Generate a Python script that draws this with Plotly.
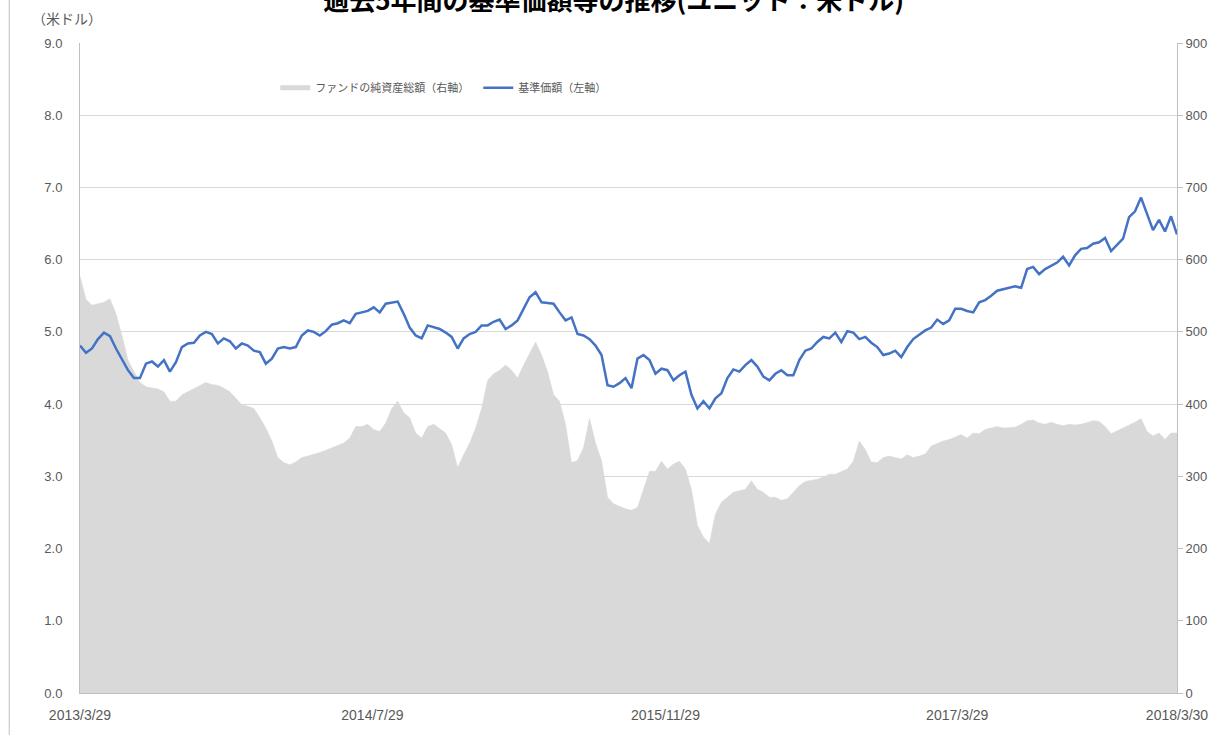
import pandas as pd
import plotly.graph_objects as go

# ---- data ----
start_date = "2013-03-29"
end_date = "2018-03-30"
n_points = 184

nav_usd = [  # 基準価額（左軸）, 米ドル
    4.81, 4.71, 4.77, 4.90, 4.99, 4.94, 4.77, 4.61, 4.47, 4.36,
    4.36, 4.56, 4.59, 4.52, 4.61, 4.45, 4.58, 4.79, 4.84, 4.85,
    4.95, 5.00, 4.97, 4.84, 4.91, 4.87, 4.77, 4.84, 4.81, 4.74,
    4.72, 4.56, 4.63, 4.77, 4.79, 4.77, 4.79, 4.95, 5.02, 5.00,
    4.95, 5.01, 5.10, 5.12, 5.16, 5.12, 5.25,
    5.27, 5.29, 5.34, 5.27, 5.39, 5.41, 5.42, 5.25, 5.06, 4.95,
    4.91, 5.09, 5.06, 5.04, 4.99, 4.93, 4.77, 4.91, 4.97, 5.00,
    5.09, 5.09, 5.14, 5.17, 5.04, 5.09, 5.16, 5.32, 5.48, 5.55,
    5.41, 5.40, 5.39, 5.27, 5.16, 5.20, 4.97, 4.95, 4.90, 4.81,
    4.68, 4.26, 4.24, 4.29, 4.36, 4.22,
    4.63, 4.68, 4.61, 4.42, 4.49, 4.47, 4.33, 4.40, 4.45, 4.13,
    3.94, 4.04, 3.94, 4.08, 4.15, 4.36, 4.48, 4.45, 4.54, 4.61,
    4.52, 4.38, 4.33, 4.42, 4.47, 4.40, 4.40, 4.61, 4.74, 4.77,
    4.86, 4.93, 4.91, 4.99, 4.86, 5.01, 4.99, 4.90, 4.93, 4.85,
    4.79, 4.68, 4.70, 4.74, 4.65, 4.79,
    4.90, 4.96, 5.02, 5.06, 5.17, 5.11, 5.16, 5.32, 5.32, 5.29,
    5.27, 5.41, 5.44, 5.50, 5.57, 5.59, 5.61, 5.63, 5.61, 5.87,
    5.90, 5.80, 5.87, 5.92, 5.96, 6.04, 5.92, 6.06, 6.15, 6.16,
    6.22, 6.24, 6.30, 6.12, 6.21, 6.29, 6.59, 6.67, 6.86, 6.62,
    6.41, 6.55, 6.39, 6.60, 6.35,
]

net_assets = [  # ファンドの純資産総額（右軸）
    577, 545, 537, 539, 541, 546, 525, 495, 461, 445,
    430, 424, 423, 421, 417, 404, 404, 413, 417, 421,
    426, 430, 427, 426, 422, 417, 408, 399, 397, 394,
    381, 367, 349, 326, 319, 316, 320, 326, 328, 330,
    333, 336, 339, 342, 346, 353, 369,
    369, 372, 365, 362, 374, 394, 404, 388, 381, 360,
    353, 369, 372, 366, 360, 344, 312, 330, 346, 367,
    394, 433, 442, 447, 454, 447, 436, 454, 470, 486,
    468, 445, 413, 404, 372, 319, 322, 340, 380, 346,
    322, 271, 262, 258, 255, 253,
    257, 282, 307, 307, 321, 310, 317, 321, 310, 282,
    232, 216, 207, 248, 264, 271, 278, 280, 282, 294,
    282, 278, 271, 271, 267, 269, 278, 287, 293, 294,
    296, 299, 303, 303, 307, 310, 321, 349, 337, 320,
    319, 326, 328, 326, 324, 330,
    326, 328, 331, 342, 346, 349, 351, 354, 358, 353,
    360, 359, 365, 367, 369, 367, 367, 368, 372, 377,
    378, 374, 372, 375, 372, 370, 372, 371, 372, 374,
    377, 376, 369, 359, 363, 366, 371, 375, 380, 362,
    356, 360, 351, 360, 360,
]

tick_dates = ["2013-03-29", "2014-07-29", "2015-11-29", "2017-03-29", "2018-03-30"]
tick_labels = ["2013/3/29", "2014/7/29", "2015/11/29", "2017/3/29", "2018/3/30"]

title_text = "過去5年間の基準価額等の推移(ユニット：米ドル)"
unit_text = "（米ドル）"
name_assets = "ファンドの純資産総額（右軸）"
name_nav = "基準価額（左軸）"

dates = pd.date_range(start_date, end_date, periods=n_points)

GRAY_FILL = "#D9D9D9"
BLUE = "#4472C4"
TXT = "#595959"
GRID = "#D9D9D9"
JP = "Noto Sans CJK JP, sans-serif"
NUM = "Liberation Sans Narrow, Liberation Sans, Noto Sans, sans-serif"

fig = go.Figure()

# area on the main (right-side) axis so it is drawn beneath the line
fig.add_trace(go.Scatter(
    x=dates, y=net_assets, mode="lines", fill="tozeroy",
    fillcolor=GRAY_FILL, line=dict(color=GRAY_FILL, width=0.5),
    yaxis="y", showlegend=False, hoverinfo="skip"))

fig.add_trace(go.Scatter(
    x=dates, y=nav_usd, mode="lines",
    line=dict(color=BLUE, width=2.5),
    yaxis="y2", showlegend=False))

# legend entries
fig.add_trace(go.Scatter(x=[None], y=[None], mode="lines", name=name_assets,
                         line=dict(color=GRAY_FILL, width=5), yaxis="y"))
fig.add_trace(go.Scatter(x=[None], y=[None], mode="lines", name=name_nav,
                         line=dict(color=BLUE, width=2.5), yaxis="y2"))

fig.update_layout(
    width=1220, height=735,
    margin=dict(l=80, r=40, t=43, b=41),
    paper_bgcolor="white", plot_bgcolor="white",
    title=dict(text="<b>" + title_text + "</b>", x=0.503, xanchor="center",
               y=0.999, yref="container", yanchor="middle",
               font=dict(family=JP, size=26, color="#000000")),
    xaxis=dict(
        type="date", range=[start_date, end_date],
        tickvals=tick_dates, ticktext=tick_labels,
        showgrid=False, showline=True, linecolor="#BFBFBF", linewidth=1,
        ticks="", ticklabelstandoff=9,
        tickfont=dict(family=NUM, size=14, color=TXT),
        zeroline=False),
    yaxis=dict(
        side="right", range=[0, 900], dtick=100, tickformat="d",
        showgrid=True, gridcolor=GRID, gridwidth=1,
        showline=True, linecolor="#BFBFBF", linewidth=1,
        ticks="outside", ticklen=5, tickcolor="#BFBFBF",
        tickfont=dict(family=NUM, size=13, color=TXT),
        zeroline=False),
    yaxis2=dict(
        overlaying="y", side="left", range=[0, 9], dtick=1, tickformat=".1f",
        showgrid=False, showline=True, linecolor="#BFBFBF", linewidth=1,
        ticks="", ticklabelstandoff=14,
        tickfont=dict(family=NUM, size=13, color=TXT),
        zeroline=False),
    legend=dict(orientation="h", x=0.178, y=0.931, xanchor="left", yanchor="middle",
                bgcolor="rgba(0,0,0,0)", font=dict(family=JP, size=11, color=TXT),
                itemwidth=30, entrywidth=158, tracegroupgap=0),
    hovermode=False,
)

fig.add_annotation(text=unit_text, xref="paper", yref="paper",
                   x=-0.046, y=1.038, xanchor="left", yanchor="middle",
                   showarrow=False, font=dict(family=JP, size=14, color=TXT))

# left border of the chart frame
fig.add_shape(type="line", xref="paper", yref="paper",
              x0=-0.0645, x1=-0.0645, y0=-0.07, y1=1.07,
              line=dict(color="#BFBFBF", width=1))

fig.write_html("out.html", config={"displayModeBar": False},
               post_script="document.body.style.margin='0px';")
